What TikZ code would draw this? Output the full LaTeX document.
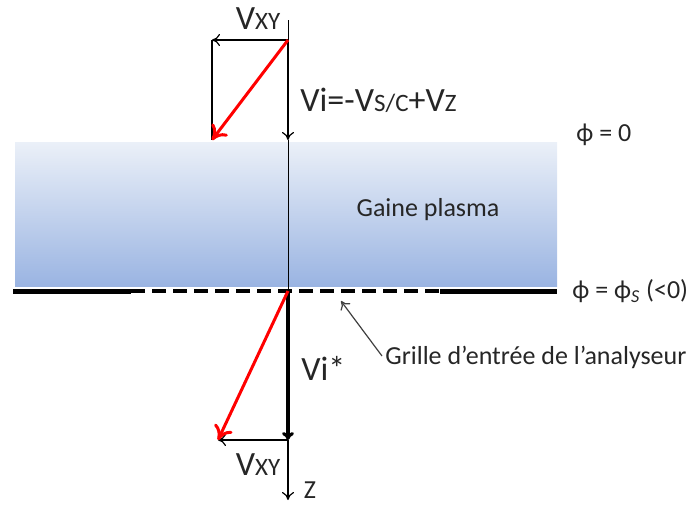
\documentclass[tikz,border=0pt]{standalone}
\usepackage{fontspec}
\setmainfont{Carlito}
\usetikzlibrary{arrows.meta, positioning}
\definecolor{sheathtop}{HTML}{EBF0F8}
\definecolor{sheathbot}{HTML}{9AB4E2}

\begin{document}
\begin{tikzpicture}[x=0.5pt, y=-0.5pt, font=\fontsize{13}{15}\selectfont]

        % Setup the styles
        \tikzset{thin arrow/.style={-{To[length=4pt,width=6pt]}, line width=0.6pt},
                 red arrow/.style={-{To[length=7pt,width=10pt]}, draw=red, line width=1.5pt},
                 label style/.style={inner sep=1pt, text=black!85},
                 vec label/.style={label style, font=\fontsize{17}{19}\selectfont}}

        % Small capitals for the indices
        \newcommand{\idx}[1]{{\fontsize{12.5}{14}\selectfont #1}}

        \useasboundingbox (0, 0) rectangle (696, 504);

        % The plasma sheath
        \shade[top color=sheathtop, bottom color=sheathbot]
              (15, 142) rectangle (557, 286);

        % Named points
        \coordinate (axtop)  at (288, 20);
        \coordinate (top)    at (288, 40);
        \coordinate (topl)   at (212, 40);
        \coordinate (toplow) at (212, 140);
        \coordinate (vitip)  at (288, 140);
        \coordinate (grid)   at (288, 291);
        \coordinate (bot)    at (288, 440);
        \coordinate (botl)   at (218, 440);
        \coordinate (zend)   at (288, 500);
        \coordinate (gl)     at (13, 291);
        \coordinate (gdl)    at (131, 291);
        \coordinate (gdr)    at (440, 291);
        \coordinate (gr)     at (557, 291);
        \coordinate (ptail)  at (382, 356);
        \coordinate (phead)  at (341, 301);

        % The grid line
        \draw[line width=2.5pt] (gl) -- (gdl);
        \draw[line width=1.6pt, dash pattern=on 7pt off 3.5pt] (gdl) -- (gdr);
        \draw[line width=2.5pt] (gdr) -- (gr);

        % Upper vectors
        \draw (axtop) -- (top);
        \draw[thin arrow] (top) -- (vitip);
        \draw (vitip) -- (grid);
        \draw[thin arrow] (top) -- (topl);
        \draw[line width=0.6pt] (topl) -- (toplow);
        \draw[red arrow] (top) -- (toplow);

        % Lower vectors
        \draw[thin arrow, line width=1.6pt] (grid) -- (bot);
        \draw[thin arrow] (bot) -- (botl);
        \draw[thin arrow] (bot) -- (zend);
        \draw[red arrow] (grid) -- (botl);

        % Pointer to the grid
        \draw[-{To[length=4pt,width=6pt]}, draw=black!75, line width=0.6pt] (ptail) -- (phead);

        % Labels
        \node[vec label] (vxytop) at (258, 19) {V\idx{XY}};
        \node[vec label, anchor=west] (vi) at (298, 100) {Vi=-V\idx{S/C}+V\idx{Z}};
        \node[label style] (gaine) at (428, 210) {Gaine plasma};
        \node[label style, anchor=west] (phi0) at (574, 135) {ϕ = 0};
        \node[label style, anchor=west] (phis) at (570, 291) {ϕ = ϕ\textsubscript{\textit{S}} (<0)};
        \node[label style, anchor=west] (grille) at (383, 357) {Grille d’entrée de l’analyseur};
        \node[vec label, anchor=west] (vistar) at (299, 368) {Vi*};
        \node[vec label] (vxybot) at (258, 465) {V\idx{XY}};
        \node[label style] (zlab) at (310, 490) {Z};

\end{tikzpicture}
\end{document}
